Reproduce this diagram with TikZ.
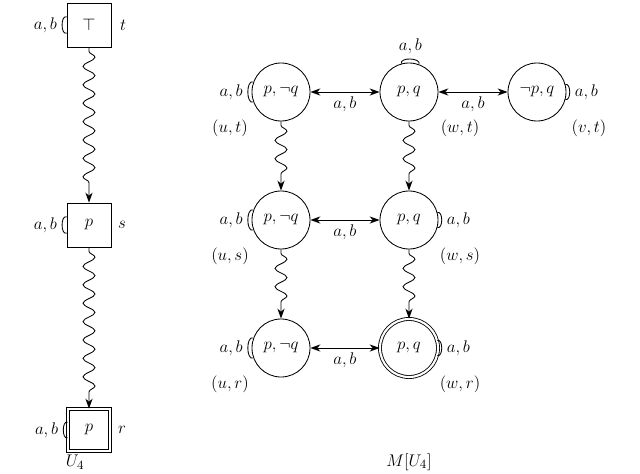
\documentclass[tikz,border=0pt]{standalone}
\usepackage{amssymb}
\usetikzlibrary{decorations.pathmorphing,arrows.meta}
\tikzset{
  state/.style={circle,draw,minimum size=1.45cm,inner sep=0pt,font=\fontsize{13}{15}\selectfont},
  acc/.style={state,double,double distance=1.5pt},
  box/.style={rectangle,draw,minimum size=1.1cm,inner sep=0pt,font=\fontsize{13}{15}\selectfont},
  lab/.style={font=\fontsize{13}{15}\selectfont},
  wavy/.style={->,decorate,decoration={snake,amplitude=1.5mm,segment length=4.6mm,pre length=1mm,post length=4mm}},
  every loop/.style={->,min distance=9mm},
}
\begin{document}
\begin{tikzpicture}[x=0.025cm,y=-0.025cm,>={Stealth[length=2.5mm,width=1.8mm]},line width=0.6pt]
  \useasboundingbox (0,0) rectangle (640,474);

  % U_4
  \node[box] at (89,25) (t){$\top$};
  \node[box] at (89,225) (s){$p$};
  \node[box,double,double distance=1.5pt,minimum size=1.05cm] at (89,430) (r){$p$};
  \node[lab] at (123,25) {$t$};
  \node[lab] at (122,225) {$s$};
  \node[lab] at (122,430) {$r$};
  \node[lab] at (75,462) {$U_4$};
  \foreach \n in {t,s,r}
    \draw (\n) edge[loop left,out=200,in=160] node[left,lab]{$a,b$} (\n);
  \draw[wavy] (t) -- (s);
  \draw[wavy] (s) -- (r);

  % M[U_4]
  \node[state] at (281,92) (ut){$p,\neg q$};
  \node[state] at (409,92) (wt){$p,q$};
  \node[state] at (537,92) (vt){$\neg p,q$};
  \node[state] at (281,220) (us){$p,\neg q$};
  \node[state] at (409,220) (ws){$p,q$};
  \node[state] at (281,348) (ur){$p,\neg q$};
  \node[acc] at (409,348) (wr){$p,q$};

  \node[lab] at (230,128) {$(u,t)$};
  \node[lab] at (460,128) {$(w,t)$};
  \node[lab] at (589,128) {$(v,t)$};
  \node[lab] at (230,256) {$(u,s)$};
  \node[lab] at (460,256) {$(w,s)$};
  \node[lab] at (230,384) {$(u,r)$};
  \node[lab] at (460,384) {$(w,r)$};
  \node[lab] at (409,462) {$M[U_4]$};

  \foreach \n in {ut,us,ur}
    \draw (\n) edge[loop left,out=200,in=160] node[left,lab]{$a,b$} (\n);
  \foreach \n in {vt,ws,wr}
    \draw (\n) edge[loop right,out=15,in=-15] node[right,lab]{$a,b$} (\n);
  \draw (wt) edge[loop above,out=105,in=70] node[above,lab]{$a,b$} (wt);

  \draw[<->] (ut) -- node[below,lab]{$a,b$} (wt);
  \draw[<->] (wt) -- node[below,lab]{$a,b$} (vt);
  \draw[<->] (us) -- node[below,lab]{$a,b$} (ws);
  \draw[<->] (ur) -- node[below,lab]{$a,b$} (wr);

  \draw[wavy] (ut) -- (us);
  \draw[wavy] (us) -- (ur);
  \draw[wavy] (wt) -- (ws);
  \draw[wavy] (ws) -- (wr);
\end{tikzpicture}
\end{document}
